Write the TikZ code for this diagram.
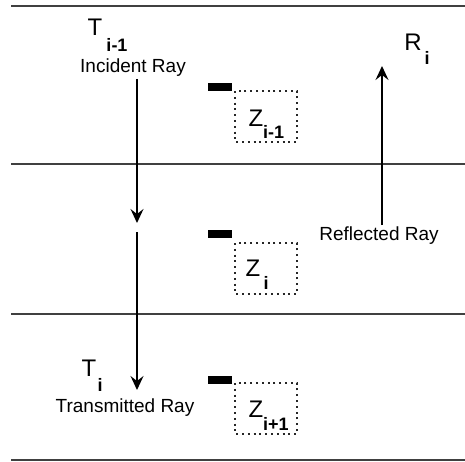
\documentclass[tikz,border=0pt]{standalone}
\usepackage{fontspec}
\setmainfont{Liberation Sans}
\usetikzlibrary{arrows.meta}
\tikzset{
  layer/.style={draw=black!75, line width=2pt},
  ray/.style={draw=black, line width=1.5pt, -{Stealth[length=14pt, width=13pt, inset=5pt]}},
  lbl/.style={inner sep=0pt, font=\fontsize{19}{19}\selectfont},
  big/.style={inner sep=0pt, font=\fontsize{24}{24}\selectfont},
  sub/.style={inner sep=0pt, font=\fontsize{18}{18}\selectfont\bfseries},
  zbox/.style={draw=black!85, line width=1.8pt, dash pattern=on 2pt off 3.8pt},
  bar/.style={fill=black, draw=none}
}
\begin{document}
\begin{tikzpicture}[x=1pt, y=-1pt]
\useasboundingbox (0,0) rectangle (465,462);
% layer boundaries
\foreach \n/\yy in {1/6, 2/164, 3/314, 4/460} {
  \coordinate (L\n a) at (11,\yy);
  \coordinate (L\n b) at (465,\yy);
  \draw[layer] (L\n a) -- (L\n b);
}
% labels
\node[big] (T1) at (95,27) {T};
\node[sub] (T1s) at (117,45) {i-1};
\node[lbl] (inc) at (133,68) {Incident Ray};
\node[big] (T2) at (89,368) {T};
\node[sub] (T2s) at (100,385) {i};
\node[lbl] (trn) at (125,408) {Transmitted Ray};
\node[big] (R) at (413,42) {R};
\node[sub] (Rs) at (427,58) {i};
\node[lbl] (ref) at (379,236) {Reflected Ray};
% rays
\coordinate (a1s) at (137,79);
\coordinate (a1e) at (137,223);
\coordinate (a2s) at (137,232);
\coordinate (a2e) at (137,390);
\coordinate (a3s) at (382,225);
\coordinate (a3e) at (382,66);
\draw[ray] (a1s) -- (a1e);
\draw[ray] (a2s) -- (a2e);
\draw[ray] (a3s) -- (a3e);
% impedance boxes
\foreach \n/\yb/\yt in {1/83/91, 2/230/243, 3/376/383} {
  \coordinate (b\n a) at (208,\yb);
  \coordinate (b\n b) at (232,\yb+8);
  \fill[bar] (b\n a) rectangle (b\n b);
  \coordinate (z\n a) at (235,\yt);
  \coordinate (z\n b) at (297,\yt+51);
  \draw[zbox] (z\n a) rectangle (z\n b);
}
\node[big] (Z1) at (256,118) {Z};
\node[sub, anchor=west] (Z1s) at (263,132) {i-1};
\node[big] (Z2) at (253,268) {Z};
\node[sub] (Z2s) at (266,283) {i};
\node[big] (Z3) at (256,409) {Z};
\node[sub, anchor=west] (Z3s) at (263,424) {i+1};
\end{tikzpicture}
\end{document}
